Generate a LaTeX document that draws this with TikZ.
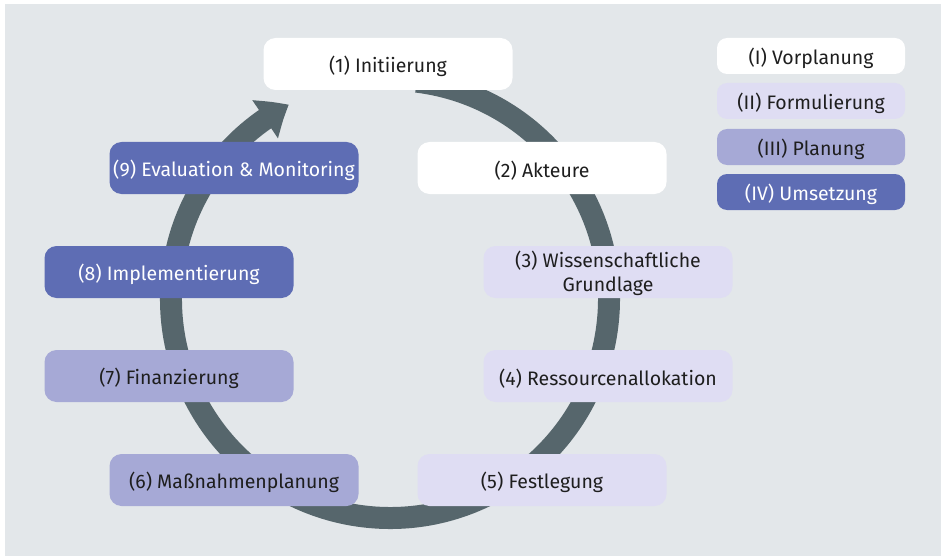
\documentclass[tikz,border=0pt]{standalone}
\usepackage{fontspec}
\setmainfont{Fira Sans}
\usetikzlibrary{arrows.meta,calc,bending}
\definecolor{bgc}{HTML}{E3E7EA}
\definecolor{ringc}{HTML}{56666C}
\definecolor{lightc}{HTML}{DFDDF3}
\definecolor{medc}{HTML}{A6A9D6}
\definecolor{darkc}{HTML}{5E6DB4}
\definecolor{txtc}{HTML}{1E1E1E}
\newcommand\lowtxt[1]{\raisebox{-2.5pt}[\height][\depth]{#1}}
\begin{document}
\begin{tikzpicture}[x=1pt,y=-1pt,
  txt/.style={font=\fontsize{19.5}{24}\selectfont},
  stage/.style={txt, rounded corners=12pt, minimum width=249pt, minimum height=52pt, inner sep=0pt, align=center, text=txtc},
  legend/.style={txt, rounded corners=10pt, minimum width=188pt, minimum height=36pt, inner sep=0pt, align=center, text=txtc},
  pre/.style={fill=white},
  form/.style={fill=lightc},
  plan/.style={fill=medc},
  ums/.style={fill=darkc, text=white},
  ring/.style={draw=ringc, line width=22pt, -{Triangle[length=28pt,width=44pt,bend]}}
]
\useasboundingbox (0,0) rectangle (945,559);
\fill[bgc] (5,4) rectangle (941,556);
\coordinate (c) at (390,299);
\draw[ring] ($(c)+(-83:219)$) arc[start angle=-83, end angle=242.5, radius=219];

\node[stage, pre]  (s1) at (388,64)  {\lowtxt{(1) Initiierung}};
\node[stage, pre]  (s2) at (542,168) {\lowtxt{(2) Akteure}};
\node[stage, form] (s3) at (608,272) {\lowtxt{\begin{tabular}{@{}c@{}}(3) Wissenschaftliche\\Grundlage\end{tabular}}};
\node[stage, form] (s4) at (608,376) {\lowtxt{(4) Ressourcenallokation}};
\node[stage, form] (s5) at (542,480) {\lowtxt{(5) Festlegung}};
\node[stage, plan] (s6) at (234,480) {\lowtxt{(6) Maßnahmenplanung}};
\node[stage, plan] (s7) at (169,376) {\lowtxt{(7) Finanzierung}};
\node[stage, ums]  (s8) at (169,272) {\lowtxt{(8) Implementierung}};
\node[stage, ums]  (s9) at (234,168) {\lowtxt{(9) Evaluation \& Monitoring}};

\node[legend, pre]  (l1) at (811,56)  {\lowtxt{(I) Vorplanung}};
\node[legend, form] (l2) at (811,101) {\lowtxt{(II) Formulierung}};
\node[legend, plan] (l3) at (811,147) {\lowtxt{(III) Planung}};
\node[legend, ums]  (l4) at (811,192) {\lowtxt{(IV) Umsetzung}};
\end{tikzpicture}
\end{document}
